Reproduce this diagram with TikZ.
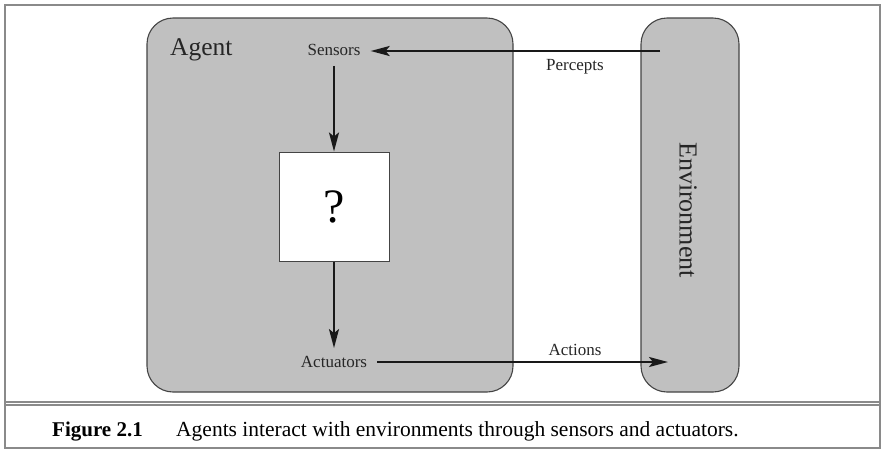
\documentclass[tikz,border=0pt]{standalone}
\usepackage{fontspec}
\setmainfont{Liberation Serif}
\usetikzlibrary{arrows.meta}
\definecolor{boxfill}{HTML}{C0C0C0}
\definecolor{boxline}{HTML}{444444}
\definecolor{framecol}{HTML}{8A8A8A}
\begin{document}
\begin{tikzpicture}[x=1pt,y=-1pt,
  bigbox/.style={draw=boxline, line width=1.1pt, fill=boxfill, rounded corners=26pt, inner sep=0pt},
  lbl/.style={inner sep=0pt, font=\fontsize{17}{20}\selectfont, text=black!85},
  arr/.style={line width=2.2pt, draw=black!90, -{Stealth[length=19pt,width=10pt,inset=4pt]}},
  framestyle/.style={draw=framecol, line width=1.1pt}
]
\useasboundingbox (0,0) rectangle (886,456);
% outer frame
\draw[framestyle] (5,5) rectangle (880,448);
\draw[framestyle] (5,402) -- (880,402);
\draw[framestyle] (5,405) -- (880,405);
% boxes
\node[bigbox, minimum width=366pt, minimum height=374pt] (agent) at (330,205) {};
\node[bigbox, minimum width=98pt, minimum height=374pt] (env) at (690,205) {};
\node[inner sep=0pt, anchor=base west, font=\fontsize{25.5}{30}\selectfont, text=black!85] (agentlbl) at (170,55) {Agent};
\node[inner sep=0pt, rotate=-90, font=\fontsize{26}{30}\selectfont, text=black!85] (envlbl) at (688,210) {Environment};
\node[draw=boxline, line width=1pt, fill=white, minimum width=110pt, minimum height=109pt, inner sep=0pt, font=\fontsize{48}{50}\selectfont] (q) at (334,206.5) {?};
% labels
\node[lbl, anchor=base] (sensors) at (334,55.5) {Sensors};
\node[lbl, anchor=base] (actuators) at (334,367.5) {Actuators};
\node[lbl, anchor=base] (percepts) at (575,70) {Percepts};
\node[lbl, anchor=base] (actions) at (575,355) {Actions};
\coordinate (pstart) at (660,51);
\coordinate (aend) at (668,362);
% arrows
\draw[arr] (pstart) -- ([xshift=10pt]sensors.east |- pstart);
\draw[arr] ([yshift=-10pt]sensors.south) -- (q.north);
\draw[arr] (q.south) -- ([yshift=8pt]actuators.north);
\draw[arr] ([xshift=10pt]actuators.east |- aend) -- (aend);
% caption
\node[inner sep=0pt, anchor=base west, font=\fontsize{21}{25}\selectfont\bfseries] (fig) at (52,436) {Figure 2.1};
\node[inner sep=0pt, anchor=base west, font=\fontsize{21.5}{25}\selectfont] (cap) at (176,436) {Agents interact with environments through sensors and actuators.};
\end{tikzpicture}
\end{document}
